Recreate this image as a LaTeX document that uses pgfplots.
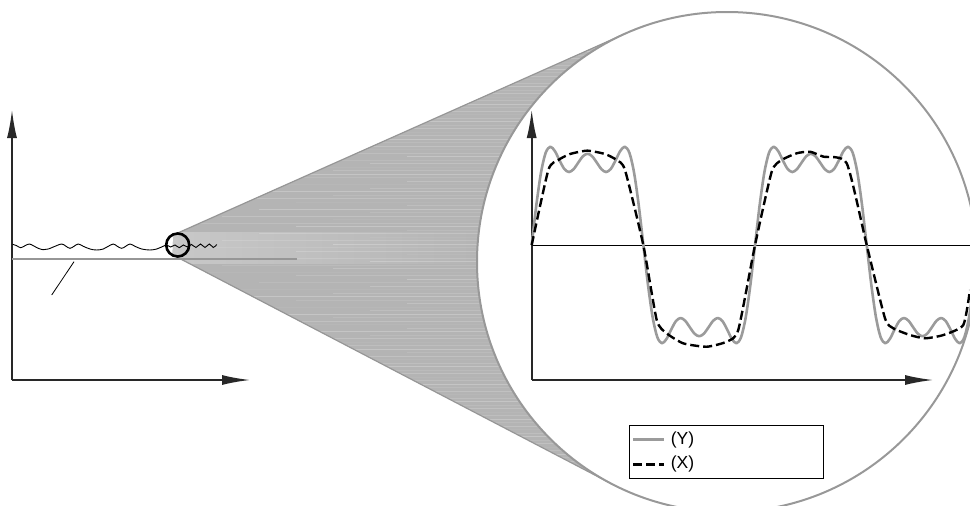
\documentclass[border=0pt]{standalone}
\usepackage{pgfplots}
\pgfplotsset{compat=1.18}
\usepackage{fontspec}
\setmainfont{Liberation Sans}
\usetikzlibrary{arrows.meta}
\definecolor{conefill}{RGB}{180,180,180}
\definecolor{coneband}{RGB}{200,200,200}
\definecolor{conedge}{RGB}{150,150,150}
\definecolor{circgray}{RGB}{152,152,152}
\definecolor{curvegray}{RGB}{155,155,155}
\definecolor{axcol}{RGB}{40,40,40}
\pgfplotsset{
  myarrows/.style={
    axis x line=bottom, axis y line=left, ticks=none,
    axis line style={axcol, line width=1.6pt, -{Latex[length=28pt,width=10pt]}},
  }
}
\begin{document}
\begin{tikzpicture}
% ---- magnifier cone and big circle (pixel coordinates) ----
\begin{scope}[x=1pt,y=-1pt]
  \begin{scope}
    \clip (173.2,235.0) -- (625.3,33.6) arc[start angle=246, end angle=117.5, radius=250] -- (172.6,254.8) -- cycle;
    \fill[conefill] (0,0) rectangle (970,506);
    \shade[left color=coneband, right color=conefill] (170,232) rectangle (490,263);
    \foreach \yy [count=\i] in {30,33.5,...,490}{
      \pgfmathsetmacro{\op}{0.05+0.045*mod(\i*7,5)}
      \pgfmathsetmacro{\xs}{185+37*mod(\i*3,7)}
      \fill[white, opacity=\op] (\xs,\yy) rectangle (620,\yy+1.2);
    }
  \end{scope}
  \draw[conedge, line width=1.2pt] (173.2,235.0) -- (625.3,33.6);
  \draw[conedge, line width=1.2pt] (172.6,254.8) -- (611.4,483.7);
  \draw[circgray, line width=2pt] (727,262) circle[radius=250];
\end{scope}
% ---- small overview chart ----
\begin{axis}[myarrows,
  at={(12pt,-380pt)}, anchor=south west, scale only axis,
  width=238pt, height=270pt,
  xmin=0, xmax=238, ymin=0, ymax=270, clip=false]
  \addplot[conedge, line width=2.2pt] coordinates {(0,120.7) (285,120.7)};
  \addplot[black, line width=0.8pt] coordinates {(39.7,85) (62,118.3)};
  \addplot[black, line width=0.9pt, smooth, tension=0.6] coordinates {
    (0.7,135.7) (4.7,134.3) (8.7,132.3) (13,134.3) (17.3,136) (21.3,134.3)
    (26.3,131.7) (31.3,130.3) (36.3,131) (41.3,133) (49.7,136) (54,133.7)
    (58,131.7) (62,133.7) (66.3,136) (71.3,133.7) (78,131) (84.7,130)
    (91.3,131) (96.3,133.7) (101.3,136) (105.3,133.7) (109.7,131.7) (113.7,133.7)
    (118,136) (123,133.7) (129.7,131) (138,130) (144.7,131) (149.7,133)
    (154.7,135) (158.7,133) (163,135) (167.3,132.3) (171.3,135) (175.3,133)
    (179.5,135.5) (184,132.5) (188.5,136) (193,132.5) (197.3,136) (201.3,132.5)
    (204.7,135.5)};
\end{axis}
\begin{scope}[x=1pt,y=-1pt]
  \draw[black, line width=2.6pt] (177.7,245) circle[radius=11.5];
\end{scope}
% ---- magnified chart ----
\begin{scope}
\clip (727pt,-262pt) circle[radius=250pt];
\begin{axis}[myarrows,
  at={(531.7pt,-380pt)}, anchor=south west, scale only axis,
  width=401.3pt, height=270pt,
  xmin=0, xmax=646.9, ymin=-1.282, ymax=1.282, clip=false,
  legend image code/.code={\draw[#1] (0pt,0pt) -- (31pt,0pt);},
  legend cell align=left,
  legend style={at={(0.2432,-0.1667)}, anchor=north west, draw=black, line width=1pt,
    inner xsep=2.4pt, inner ysep=1.8pt, row sep=0pt,
    font=\fontsize{17.5pt}{19pt}\selectfont,
    nodes={inner xsep=5pt, inner ysep=5.2pt, text height=11.5pt, text depth=3pt, text width=145pt, align=left}},
]
  \addplot[black, line width=1pt, forget plot] coordinates {(0,0) (706.5,0)};
  \addplot[curvegray, line width=2.6pt, smooth, tension=0.5, line join=round] coordinates {
    (0,0) (7.5,0.3799) (15,0.6877) (22.5,0.8755) (30,0.9333) (37.5,0.8907) (45,0.8014) (52.5,0.7227)
    (60,0.6928) (67.5,0.7198) (75,0.7820) (82.5,0.8421) (90,0.8667) (97.5,0.8421) (105,0.7820)
    (112.5,0.7198) (120,0.6928) (127.5,0.7227) (135,0.8014) (142.5,0.8907) (150,0.9333)
    (157.5,0.8755) (165,0.6877) (172.5,0.3799) (180,0)
    (187.5,-0.3799) (195,-0.6877) (202.5,-0.8755) (210,-0.9333) (217.5,-0.8907) (225,-0.8014)
    (232.5,-0.7227) (240,-0.6928) (247.5,-0.7198) (255,-0.7820) (262.5,-0.8421) (270,-0.8667)
    (277.5,-0.8421) (285,-0.7820) (292.5,-0.7198) (300,-0.6928) (307.5,-0.7227) (315,-0.8014)
    (322.5,-0.8907) (330,-0.9333) (337.5,-0.8755) (345,-0.6877) (352.5,-0.3799) (360,0)
    (367.5,0.3799) (375,0.6877) (382.5,0.8755) (390,0.9333) (397.5,0.8907) (405,0.8014)
    (412.5,0.7227) (420,0.6928) (427.5,0.7198) (435,0.7820) (442.5,0.8421) (450,0.8667)
    (457.5,0.8421) (465,0.7820) (472.5,0.7198) (480,0.6928) (487.5,0.7227) (495,0.8014)
    (502.5,0.8907) (510,0.9333) (517.5,0.8755) (525,0.6877) (532.5,0.3799) (540,0)
    (547.5,-0.3799) (555,-0.6877) (562.5,-0.8755) (570,-0.9333) (577.5,-0.8907) (585,-0.8014)
    (592.5,-0.7227) (600,-0.6928) (607.5,-0.7198) (615,-0.7820) (622.5,-0.8421) (630,-0.8667)
    (637.5,-0.8421) (645,-0.7820) (652.5,-0.7198) (660,-0.6928) (667.5,-0.7227) (675,-0.8014)
    (682.5,-0.8907) (690,-0.9333) (697.5,-0.8755) (705,-0.6877) (712.5,-0.3799)};
  \addlegendentry{(Y)}
  \addplot[black, line width=2.4pt, dash pattern=on 9pt off 4pt, smooth, tension=0.35] coordinates {
    (0,0) (26.8,0.712) (42.9,0.807) (61.7,0.864) (89.6,0.896) (118.2,0.864) (137.0,0.807)
    (150.4,0.712) (179.9,0) (201.5,-0.712) (217.6,-0.839) (244.4,-0.934) (282.1,-0.966)
    (314.3,-0.918) (333.0,-0.807) (360,0) (386.9,0.696) (403,0.807) (427.2,0.871)
    (448.6,0.886) (470.1,0.839) (507.8,0.776) (540,0) (569.5,-0.696) (582.9,-0.791)
    (609.8,-0.855) (634,-0.886) (663.5,-0.855) (695.7,-0.760) (706.5,-0.427)};
  \addlegendentry{(X)}
\end{axis}
\end{scope}
\pgfresetboundingbox
\useasboundingbox (0pt,0pt) rectangle (970pt,-506pt);
\end{tikzpicture}
\end{document}
